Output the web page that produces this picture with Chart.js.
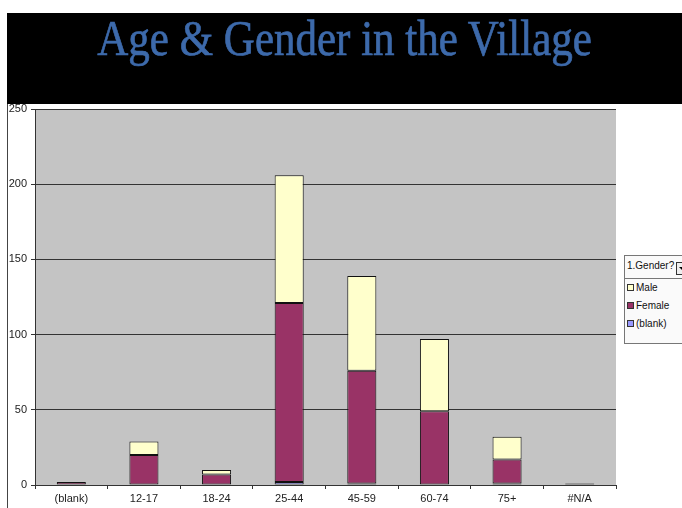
<!DOCTYPE html>
<html>
<head>
<meta charset="utf-8">
<script src="https://cdn.jsdelivr.net/npm/chart.js@4"></script>
<style>
    body { margin: 0; background: #fff; }
    #wrap { position: relative; width: 682px; height: 508px; overflow: hidden; }
    #ageChart { position: absolute; left: 0; top: 0; }
    #band {
        position: absolute; left: 7px; top: 13px; width: 675px; height: 91px;
        background: #000; color: #3d6aab; text-align: center;
        font-family: 'Liberation Serif', 'DejaVu Serif', serif; font-size: 50px;
        line-height: 50px; padding-top: 0px; box-sizing: border-box;
    }
    #band span { display: inline-block; transform: scaleX(0.86); transform-origin: center; -webkit-text-stroke: 0.7px #3d6aab; }
    #frame { position: absolute; left: 7px; top: 104px; width: 1px; height: 404px; background: #444; }
    #legend {
        position: absolute; left: 624px; top: 255px; width: 70px; height: 87px;
        border: 1px solid #777; background: #fafafa;
        font-family: 'Liberation Sans', Arial, sans-serif; font-size: 10px; color: #111;
    }
    #legend .head { height: 22px; border-bottom: 1px solid #777; line-height: 20px; padding-left: 2px; position: relative; white-space: nowrap; }
    #legend .btn { position: absolute; left: 51px; top: 6px; width: 9px; height: 11px; border: 1px solid #333; background: #eee; }
    #legend .btn:after { content: ''; position: absolute; left: 2px; top: 4px; border-left: 3px solid transparent; border-right: 3px solid transparent; border-top: 3px solid #000; }
    #legend .item { height: 18px; line-height: 18px; padding-left: 2px; white-space: nowrap; }
    #legend .sw { display: inline-block; width: 5px; height: 5px; border: 1px solid #333; margin-right: 2px; vertical-align: 0px; }
</style>
</head>
<body>
<div id="wrap">
    <canvas id="ageChart" width="682" height="508"></canvas>
    <div id="frame"></div>
    <div id="band"><span>Age &amp; Gender in the Village</span></div>
    <div id="legend">
        <div class="head">1.Gender?<span class="btn"></span></div>
        <div class="item"><span class="sw" style="background:#FFFFCC"></span>Male</div>
        <div class="item"><span class="sw" style="background:#993366"></span>Female</div>
        <div class="item"><span class="sw" style="background:#9999FF"></span>(blank)</div>
    </div>
</div>
<script>
// Age groups and counts per gender
const ageGroups = ['(blank)', '12-17', '18-24', '25-44', '45-59', '60-74', '75+', '#N/A'];
const blankValues = [null, null, null, 2, 1, null, 1, null];
const femaleValues = [2, 20, 7, 119, 75, 49, 16, 1];
const maleValues = [null, 9, 3, 85, 63, 48, 15, null];
const yTicks = [0, 50, 100, 150, 200, 250];

const axisFont = { family: "'Liberation Sans Narrow', 'Liberation Sans', Arial, sans-serif", size: 11 };

// Gray plot area behind the bars
const plotBackground = {
    id: 'plotBackground',
    beforeDraw(chart) {
        const { ctx, chartArea } = chart;
        ctx.save();
        ctx.fillStyle = '#c4c4c4';
        ctx.fillRect(chartArea.left, chartArea.top, chartArea.right - chartArea.left, chartArea.bottom - chartArea.top);
        ctx.restore();
    }
};

function barSet(label, data, color) {
    return {
        label: label,
        data: data,
        backgroundColor: color,
        borderColor: '#111',
        borderWidth: 1,
        borderSkipped: false,
        barPercentage: 0.4,
        categoryPercentage: 1.0
    };
}

new Chart(document.getElementById('ageChart'), {
    type: 'bar',
    data: {
        labels: ageGroups,
        datasets: [
            barSet('(blank)', blankValues, '#9999FF'),
            barSet('Female', femaleValues, '#993366'),
            barSet('Male', maleValues, '#FFFFCC')
        ]
    },
    options: {
        responsive: false,
        animation: false,
        layout: { padding: { left: 8, right: 66, top: 109, bottom: 0 } },
        plugins: {
            legend: { display: false },
            tooltip: { enabled: false }
        },
        scales: {
            x: {
                stacked: true,
                grid: { display: true, drawOnChartArea: false, color: '#333', tickLength: 4, offset: true },
                border: { color: '#333' },
                ticks: { color: '#222', font: axisFont, padding: 3, maxRotation: 0 },
                afterFit(scale) { scale.height = 23; }
            },
            y: {
                stacked: true,
                min: 0,
                max: 250,
                afterBuildTicks(scale) { scale.ticks = yTicks.map(v => ({ value: v })); },
                grid: { color: '#333', tickLength: 4 },
                border: { color: '#333' },
                ticks: { color: '#222', font: axisFont, padding: 4 },
                afterFit(scale) { scale.width = 27; }
            }
        }
    },
    plugins: [plotBackground]
});
</script>
</body>
</html>
